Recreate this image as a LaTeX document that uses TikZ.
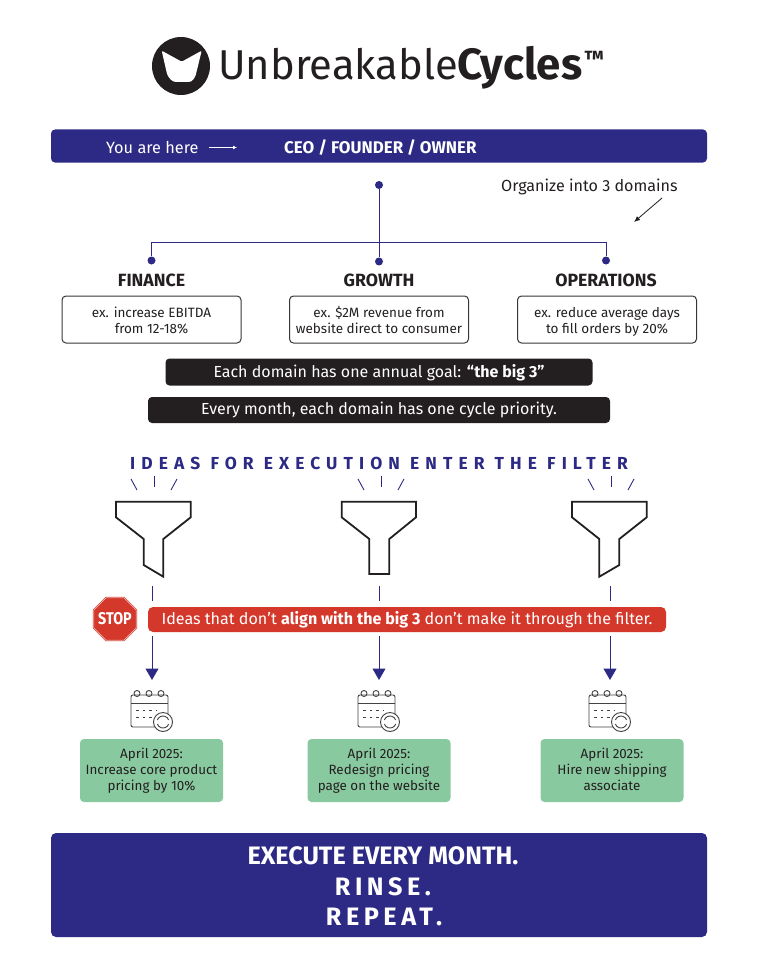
\documentclass[tikz,border=0pt]{standalone}
\usepackage{fontspec}
\setmainfont{Fira Sans}
\newfontfamily\wide[LetterSpace=35]{Fira Sans}
\newfontfamily\widerinse[LetterSpace=18]{Fira Sans}
\usetikzlibrary{arrows.meta,shapes.geometric}
\definecolor{navy}{HTML}{2C2A84}
\definecolor{ink}{HTML}{231F20}
\definecolor{redbar}{HTML}{D4382B}
\definecolor{mint}{HTML}{89C9A0}
\newcommand{\gdn}{\rule{0pt}{16.2pt}}
\newcommand{\cdn}{\rule{0pt}{13.2pt}}
\tikzset{
  x=1pt,y=-1pt,
  link/.style={navy,line width=1pt},
  tick/.style={navy,line width=0.9pt},
  dotn/.style={circle,fill=navy,inner sep=0pt,minimum size=8pt},
  head/.style={font=\fontsize{17.7}{20}\selectfont\bfseries,text=ink,inner sep=0pt},
  goal/.style={draw=ink!90,line width=1pt,rounded corners=4pt,minimum width=179pt,minimum height=47pt,align=center,inner sep=0pt,font=\fontsize{13.5}{16}\selectfont,text=ink},
  darkbar/.style={fill=ink,rounded corners=4pt,text=white,inner sep=0pt,font=\fontsize{16}{18}\selectfont},
  funnel/.style={draw=ink,line width=1.8pt,line join=miter},
  flow/.style={navy,line width=1pt,-{Triangle[length=11.5pt,width=13pt]}},
  card/.style={fill=mint,rounded corners=4pt,minimum width=143pt,minimum height=63pt,align=center,inner sep=0pt,font=\fontsize{13.4}{16}\selectfont,text=ink},
  calline/.style={draw=ink!85,line width=0.9pt},
}
\newcommand{\calicon}[1]{%
  \begin{scope}[shift={(#1,0)}]
    \draw[calline,rounded corners=2pt] (-19,695) rectangle (18,727);
    \draw[calline] (-19,703) -- (18,703);
    \foreach \cx in {-13,-1,11}{\draw[calline] (\cx,693.5) circle (3pt);}
    \draw[calline,dash pattern=on 2.5pt off 4pt] (-14,710) -- (7,710);
    \draw[calline,dash pattern=on 2.5pt off 4pt] (-14,717) -- (7,717);
    \draw[calline,fill=white] (13,722) circle (9.5pt);
    \draw[calline] (13,722) ++(20:6) arc (20:160:6);
    \draw[calline] (13,722) ++(200:6) arc (200:340:6);
  \end{scope}}
\begin{document}
\begin{tikzpicture}
\useasboundingbox (0,0) rectangle (770,979);
\fill[white] (0,0) rectangle (770,979);
% logo
\node[circle,fill=ink,minimum size=58pt,inner sep=0pt] (logo) at (181,66) {};
\fill[white,rounded corners=1.2pt] (161.7,50.7) -- (181.7,61.7) -- (201.7,50.7) -- (195.5,76) [rounded corners=3pt] -- (191.7,82) -- (173,82) -- (167.5,76) [rounded corners=1.2pt] -- cycle;
\node[anchor=west,inner sep=0pt,text=ink,font=\fontsize{41.7}{44}\selectfont] (brand) at (218,68) {Unbreakable{\fontsize{43.8}{44}\selectfont\bfseries Cycles}};
\node[anchor=west,inner sep=0pt,text=ink,font=\fontsize{22}{24}\selectfont\bfseries] (tm) at (584,59) {™};
% top bar
\node[fill=navy,rounded corners=4pt,minimum width=656pt,minimum height=33pt,inner sep=0pt] (topbar) at (379,146) {};
\node[anchor=west,inner sep=0pt,text=white,font=\fontsize{16.3}{18}\selectfont] (here) at (106,147.5) {You are here};
\coordinate (ha) at (209,147.5);
\coordinate (hb) at (237,147.5);
\draw[white,line width=0.8pt,-{Latex[length=4pt,width=4pt]}] (ha) -- (hb);
\node[anchor=west,inner sep=0pt,text=white,font=\fontsize{16.9}{18}\selectfont\bfseries] (ceo) at (284,147.5) {CEO / FOUNDER / OWNER};
% tree
\node[dotn] (top) at (379,185) {};
\node[dotn] (dfin) at (151.5,260.5) {};
\node[dotn] (dgro) at (379,261.5) {};
\node[dotn] (dops) at (606,260.5) {};
\draw[link] (top) -- (dgro);
\draw[link] (dfin.north) -- ++(0,-14.2) -| (dops.north);
\node[anchor=west,inner sep=0pt,text=ink,font=\fontsize{16.1}{18}\selectfont] (org) at (501,187) {Organize into 3 domains};
\coordinate (oa) at (662,198);
\coordinate (ob) at (634,222);
\draw[ink,line width=0.8pt,-{Latex[length=6pt,width=5pt]}] (oa) -- (ob);
\node[head] (hfin) at (151.5,280.5) {FINANCE};
\node[head] (hgro) at (379,280.5) {GROWTH};
\node[head] (hops) at (606,280.5) {OPERATIONS};
\node[goal] (gfin) at (151.5,319.5) {\gdn ex. increase EBITDA\\\strut from 12-18\%};
\node[goal] (ggro) at (379,319.5) {\gdn ex. \$2M revenue from\\\strut website direct to consumer};
\node[goal] (gops) at (607,319.5) {\gdn ex. reduce average days\\\strut to fill orders by 20\%};
\node[darkbar,minimum width=427pt,minimum height=27pt] (b1) at (379,372) {\rule{0pt}{14pt}Each domain has one annual goal: \textbf{“the big 3”}};
\node[darkbar,minimum width=462pt,minimum height=26pt] (b2) at (379,410) {Every month, each domain has one cycle priority.};
\node[inner sep=0pt,text=navy,font=\fontsize{17.4}{20}\selectfont\bfseries\wide] (ideas) at (379,463) {IDEAS FOR EXECUTION ENTER THE FILTER};
% ticks
\foreach \a/\b/\c in {154/131/177,381/358/404,611/588/634}{
  \draw[tick] (\a,476) -- (\a,487);
  \draw[tick] (\b,479) -- (\b+6,490);
  \draw[tick] (\c,479) -- (\c-6,490);
}
% funnels
\draw[funnel] (116,501.7) -- (190.7,501.7) -- (190.7,517.3) -- (163.3,539) -- (163.3,576.7) -- (143.7,565) -- (143.7,539) -- (116,517.3) -- cycle;
\draw[funnel] (341.7,501.7) -- (416,501.7) -- (416,517.3) -- (389.3,539) -- (389.3,574) -- (369.3,574) -- (369.3,539) -- (341.7,517.3) -- cycle;
\draw[funnel] (572,501.7) -- (646.7,501.7) -- (646.7,517.3) -- (619.3,539) -- (619.3,565) -- (599.3,576.7) -- (599.3,539) -- (572,517.3) -- cycle;
% stop
\node[regular polygon,regular polygon sides=8,draw=redbar,fill=redbar,line width=0.6pt,double=white!60!redbar,double distance=0.7pt,minimum size=46pt,inner sep=0pt,outer sep=0pt] (stop) at (115,619) {};
\node[inner sep=0pt,text=white,font=\fontsize{17}{18}\selectfont\bfseries] (stoptext) at (stop.center) {\scalebox{.84}[1]{STOP}};
\node[fill=redbar,rounded corners=5pt,minimum width=518pt,minimum height=25pt,inner sep=0pt,text=white,font=\fontsize{16.1}{18}\selectfont] (warn) at (407,619.5) {Ideas that don’t \textbf{align with the big 3} don’t make it through the filter.};
% flows
\coordinate (f1a) at (152,586); \coordinate (f1b) at (152,601);
\coordinate (f2a) at (379,586); \coordinate (f2b) at (379,601);
\coordinate (f3a) at (610,586); \coordinate (f3b) at (610,601);
\draw[link] (f1a) -- (f1b); \draw[link] (f2a) -- (f2b); \draw[link] (f3a) -- (f3b);
\coordinate (t1a) at (152,636); \coordinate (t1b) at (152,680);
\coordinate (t2a) at (379,636); \coordinate (t2b) at (379,680);
\coordinate (t3a) at (610,636); \coordinate (t3b) at (610,680);
\draw[flow] (t1a) -- (t1b); \draw[flow] (t2a) -- (t2b); \draw[flow] (t3a) -- (t3b);
% calendars
\calicon{150}\calicon{377}\calicon{608}
% cards
\node[card] (c1) at (151.5,770.5) {\cdn April 2025:\\\strut Increase core product\\\strut pricing by 10\%};
\node[card] (c2) at (379,770.5) {\cdn April 2025:\\\strut Redesign pricing\\\strut page on the website};
\node[card] (c3) at (612,770.5) {\cdn April 2025:\\\strut Hire new shipping\\\strut associate};
% footer
\node[fill=navy,rounded corners=5pt,minimum width=656pt,minimum height=104pt,inner sep=0pt] (foot) at (379,885) {};
\node[inner sep=0pt,text=white,font=\fontsize{25.2}{28}\selectfont\bfseries] (e1) at (383,856) {EXECUTE EVERY MONTH.};
\node[inner sep=0pt,text=white,font=\fontsize{25.2}{28}\selectfont\bfseries\widerinse] (e2) at (383,887) {RINSE.};
\node[inner sep=0pt,text=white,font=\fontsize{25.2}{28}\selectfont\bfseries\widerinse] (e3) at (384,917) {REPEAT.};
\end{tikzpicture}
\end{document}
